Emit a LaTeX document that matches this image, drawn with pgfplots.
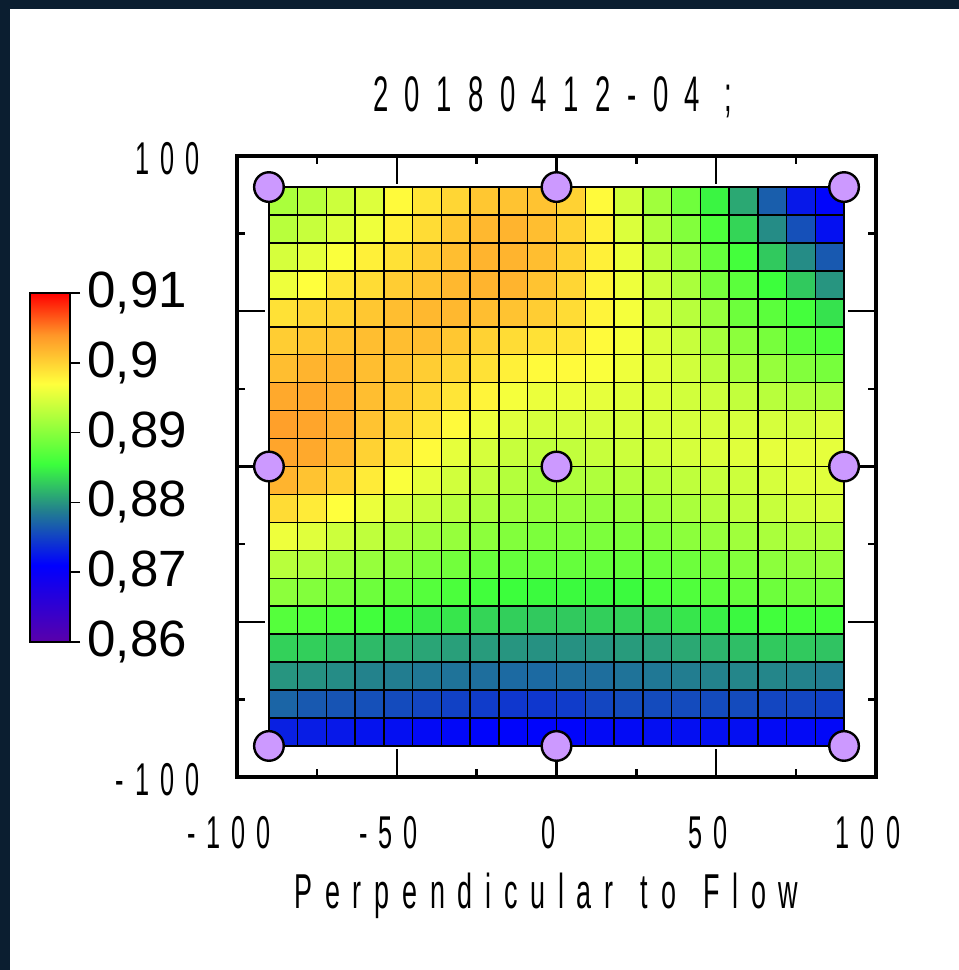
\documentclass[border=0pt]{standalone}
\usepackage{pgfplots}
\usepackage{pgfplotstable}
\pgfplotsset{compat=1.18}
\usepackage{fontspec}
\setmainfont{Liberation Sans}
\newfontfamily\ticknarrow[FakeStretch=0.55,LetterSpace=24]{Liberation Sans}
\newfontfamily\titlenarrow[FakeStretch=0.55,LetterSpace=33]{Liberation Sans}
\newfontfamily\labelnarrow[FakeStretch=0.55,LetterSpace=26]{Liberation Sans}
\definecolor{framebg}{RGB}{11,30,48}
\definecolor{markfill}{RGB}{204,153,255}
\pgfplotstableread[row sep=\\]{
x y c\\
-85.5 -85.5 0.8730\\ -76.5 -85.5 0.8728\\ -67.5 -85.5 0.8725\\ -58.5 -85.5 0.8722\\ -49.5 -85.5 0.8719\\ -40.5 -85.5 0.8716\\ -31.5 -85.5 0.8715\\ -22.5 -85.5 0.8713\\ -13.5 -85.5 0.8713\\ -4.5 -85.5 0.8713\\
4.5 -85.5 0.8713\\ 13.5 -85.5 0.8716\\ 22.5 -85.5 0.8717\\ 31.5 -85.5 0.8719\\ 40.5 -85.5 0.8719\\ 49.5 -85.5 0.8719\\ 58.5 -85.5 0.8719\\ 67.5 -85.5 0.8717\\ 76.5 -85.5 0.8716\\ 85.5 -85.5 0.8715\\
-85.5 -76.5 0.8772\\ -76.5 -76.5 0.8765\\ -67.5 -76.5 0.8762\\ -58.5 -76.5 0.8759\\ -49.5 -76.5 0.8756\\ -40.5 -76.5 0.8753\\ -31.5 -76.5 0.8750\\ -22.5 -76.5 0.8747\\ -13.5 -76.5 0.8744\\ -4.5 -76.5 0.8744\\
4.5 -76.5 0.8747\\ 13.5 -76.5 0.8753\\ 22.5 -76.5 0.8756\\ 31.5 -76.5 0.8756\\ 40.5 -76.5 0.8756\\ 49.5 -76.5 0.8756\\ 58.5 -76.5 0.8756\\ 67.5 -76.5 0.8753\\ 76.5 -76.5 0.8753\\ 85.5 -76.5 0.8750\\
-85.5 -67.5 0.8800\\ -76.5 -67.5 0.8798\\ -67.5 -67.5 0.8795\\ -58.5 -67.5 0.8790\\ -49.5 -67.5 0.8787\\ -40.5 -67.5 0.8784\\ -31.5 -67.5 0.8781\\ -22.5 -67.5 0.8778\\ -13.5 -67.5 0.8775\\ -4.5 -67.5 0.8775\\
4.5 -67.5 0.8778\\ 13.5 -67.5 0.8778\\ 22.5 -67.5 0.8781\\ 31.5 -67.5 0.8784\\ 40.5 -67.5 0.8787\\ 49.5 -67.5 0.8790\\ 58.5 -67.5 0.8792\\ 67.5 -67.5 0.8792\\ 76.5 -67.5 0.8790\\ 85.5 -67.5 0.8787\\
-85.5 -58.5 0.8831\\ -76.5 -58.5 0.8830\\ -67.5 -58.5 0.8824\\ -58.5 -58.5 0.8819\\ -49.5 -58.5 0.8813\\ -40.5 -58.5 0.8808\\ -31.5 -58.5 0.8805\\ -22.5 -58.5 0.8803\\ -13.5 -58.5 0.8800\\ -4.5 -58.5 0.8798\\
4.5 -58.5 0.8798\\ 13.5 -58.5 0.8800\\ 22.5 -58.5 0.8803\\ 31.5 -58.5 0.8805\\ 40.5 -58.5 0.8810\\ 49.5 -58.5 0.8816\\ 58.5 -58.5 0.8821\\ 67.5 -58.5 0.8827\\ 76.5 -58.5 0.8827\\ 85.5 -58.5 0.8824\\
-85.5 -49.5 0.8870\\ -76.5 -49.5 0.8867\\ -67.5 -49.5 0.8864\\ -58.5 -49.5 0.8858\\ -49.5 -49.5 0.8852\\ -40.5 -49.5 0.8845\\ -31.5 -49.5 0.8842\\ -22.5 -49.5 0.8833\\ -13.5 -49.5 0.8830\\ -4.5 -49.5 0.8827\\
4.5 -49.5 0.8827\\ 13.5 -49.5 0.8830\\ 22.5 -49.5 0.8831\\ 31.5 -49.5 0.8833\\ 40.5 -49.5 0.8842\\ 49.5 -49.5 0.8847\\ 58.5 -49.5 0.8852\\ 67.5 -49.5 0.8858\\ 76.5 -49.5 0.8860\\ 85.5 -49.5 0.8860\\
-85.5 -40.5 0.8902\\ -76.5 -40.5 0.8896\\ -67.5 -40.5 0.8890\\ -58.5 -40.5 0.8884\\ -49.5 -40.5 0.8876\\ -40.5 -40.5 0.8870\\ -31.5 -40.5 0.8864\\ -22.5 -40.5 0.8858\\ -13.5 -40.5 0.8855\\ -4.5 -40.5 0.8853\\
4.5 -40.5 0.8853\\ 13.5 -40.5 0.8852\\ 22.5 -40.5 0.8853\\ 31.5 -40.5 0.8864\\ 40.5 -40.5 0.8867\\ 49.5 -40.5 0.8873\\ 58.5 -40.5 0.8879\\ 67.5 -40.5 0.8884\\ 76.5 -40.5 0.8887\\ 85.5 -40.5 0.8887\\
-85.5 -31.5 0.8928\\ -76.5 -31.5 0.8923\\ -67.5 -31.5 0.8914\\ -58.5 -31.5 0.8908\\ -49.5 -31.5 0.8902\\ -40.5 -31.5 0.8893\\ -31.5 -31.5 0.8887\\ -22.5 -31.5 0.8881\\ -13.5 -31.5 0.8879\\ -4.5 -31.5 0.8879\\
4.5 -31.5 0.8879\\ 13.5 -31.5 0.8879\\ 22.5 -31.5 0.8879\\ 31.5 -31.5 0.8881\\ 40.5 -31.5 0.8884\\ 49.5 -31.5 0.8890\\ 58.5 -31.5 0.8896\\ 67.5 -31.5 0.8902\\ 76.5 -31.5 0.8905\\ 85.5 -31.5 0.8908\\
-85.5 -22.5 0.8960\\ -76.5 -22.5 0.8952\\ -67.5 -22.5 0.8940\\ -58.5 -22.5 0.8932\\ -49.5 -22.5 0.8923\\ -40.5 -22.5 0.8914\\ -31.5 -22.5 0.8908\\ -22.5 -22.5 0.8902\\ -13.5 -22.5 0.8896\\ -4.5 -22.5 0.8893\\
4.5 -22.5 0.8893\\ 13.5 -22.5 0.8893\\ 22.5 -22.5 0.8893\\ 31.5 -22.5 0.8896\\ 40.5 -22.5 0.8902\\ 49.5 -22.5 0.8908\\ 58.5 -22.5 0.8914\\ 67.5 -22.5 0.8920\\ 76.5 -22.5 0.8923\\ 85.5 -22.5 0.8923\\
-85.5 -13.5 0.8993\\ -76.5 -13.5 0.8983\\ -67.5 -13.5 0.8970\\ -58.5 -13.5 0.8958\\ -49.5 -13.5 0.8946\\ -40.5 -13.5 0.8937\\ -31.5 -13.5 0.8928\\ -22.5 -13.5 0.8920\\ -13.5 -13.5 0.8914\\ -4.5 -13.5 0.8908\\
4.5 -13.5 0.8908\\ 13.5 -13.5 0.8905\\ 22.5 -13.5 0.8908\\ 31.5 -13.5 0.8914\\ 40.5 -13.5 0.8920\\ 49.5 -13.5 0.8926\\ 58.5 -13.5 0.8932\\ 67.5 -13.5 0.8937\\ 76.5 -13.5 0.8943\\ 85.5 -13.5 0.8946\\
-85.5 -4.5 0.9020\\ -76.5 -4.5 0.9010\\ -67.5 -4.5 0.9000\\ -58.5 -4.5 0.8983\\ -49.5 -4.5 0.8967\\ -40.5 -4.5 0.8955\\ -31.5 -4.5 0.8943\\ -22.5 -4.5 0.8934\\ -13.5 -4.5 0.8926\\ -4.5 -4.5 0.8917\\
4.5 -4.5 0.8923\\ 13.5 -4.5 0.8923\\ 22.5 -4.5 0.8926\\ 31.5 -4.5 0.8928\\ 40.5 -4.5 0.8932\\ 49.5 -4.5 0.8937\\ 58.5 -4.5 0.8940\\ 67.5 -4.5 0.8946\\ 76.5 -4.5 0.8952\\ 85.5 -4.5 0.8952\\
-85.5 4.5 0.9030\\ -76.5 4.5 0.9027\\ -67.5 4.5 0.9017\\ -58.5 4.5 0.9000\\ -49.5 4.5 0.8987\\ -40.5 4.5 0.8973\\ -31.5 4.5 0.8955\\ -22.5 4.5 0.8946\\ -13.5 4.5 0.8937\\ -4.5 4.5 0.8932\\
4.5 4.5 0.8934\\ 13.5 4.5 0.8937\\ 22.5 4.5 0.8940\\ 31.5 4.5 0.8943\\ 40.5 4.5 0.8946\\ 49.5 4.5 0.8949\\ 58.5 4.5 0.8952\\ 67.5 4.5 0.8955\\ 76.5 4.5 0.8955\\ 85.5 4.5 0.8955\\
-85.5 13.5 0.9033\\ -76.5 13.5 0.9030\\ -67.5 13.5 0.9023\\ -58.5 13.5 0.9010\\ -49.5 13.5 0.9000\\ -40.5 13.5 0.8987\\ -31.5 13.5 0.8973\\ -22.5 13.5 0.8960\\ -13.5 13.5 0.8952\\ -4.5 13.5 0.8946\\
4.5 13.5 0.8946\\ 13.5 13.5 0.8946\\ 22.5 13.5 0.8946\\ 31.5 13.5 0.8946\\ 40.5 13.5 0.8946\\ 49.5 13.5 0.8946\\ 58.5 13.5 0.8946\\ 67.5 13.5 0.8946\\ 76.5 13.5 0.8943\\ 85.5 13.5 0.8949\\
-85.5 22.5 0.9027\\ -76.5 22.5 0.9027\\ -67.5 22.5 0.9023\\ -58.5 22.5 0.9013\\ -49.5 22.5 0.9007\\ -40.5 22.5 0.8997\\ -31.5 22.5 0.8987\\ -22.5 22.5 0.8977\\ -13.5 22.5 0.8964\\ -4.5 22.5 0.8958\\
4.5 22.5 0.8958\\ 13.5 22.5 0.8955\\ 22.5 22.5 0.8952\\ 31.5 22.5 0.8949\\ 40.5 22.5 0.8943\\ 49.5 22.5 0.8940\\ 58.5 22.5 0.8934\\ 67.5 22.5 0.8928\\ 76.5 22.5 0.8923\\ 85.5 22.5 0.8920\\
-85.5 31.5 0.9013\\ -76.5 31.5 0.9020\\ -67.5 31.5 0.9020\\ -58.5 31.5 0.9013\\ -49.5 31.5 0.9010\\ -40.5 31.5 0.9003\\ -31.5 31.5 0.8997\\ -22.5 31.5 0.8990\\ -13.5 31.5 0.8980\\ -4.5 31.5 0.8973\\
4.5 31.5 0.8973\\ 13.5 31.5 0.8967\\ 22.5 31.5 0.8960\\ 31.5 31.5 0.8952\\ 40.5 31.5 0.8943\\ 49.5 31.5 0.8928\\ 58.5 31.5 0.8917\\ 67.5 31.5 0.8908\\ 76.5 31.5 0.8896\\ 85.5 31.5 0.8890\\
-85.5 40.5 0.9003\\ -76.5 40.5 0.9007\\ -67.5 40.5 0.9010\\ -58.5 40.5 0.9013\\ -49.5 40.5 0.9013\\ -40.5 40.5 0.9013\\ -31.5 40.5 0.9007\\ -22.5 40.5 0.9000\\ -13.5 40.5 0.8993\\ -4.5 40.5 0.8990\\
4.5 40.5 0.8987\\ 13.5 40.5 0.8973\\ 22.5 40.5 0.8964\\ 31.5 40.5 0.8949\\ 40.5 40.5 0.8937\\ 49.5 40.5 0.8917\\ 58.5 40.5 0.8902\\ 67.5 40.5 0.8890\\ 76.5 40.5 0.8873\\ 85.5 40.5 0.8867\\
-85.5 49.5 0.8990\\ -76.5 49.5 0.8997\\ -67.5 49.5 0.9000\\ -58.5 49.5 0.9007\\ -49.5 49.5 0.9013\\ -40.5 49.5 0.9017\\ -31.5 49.5 0.9017\\ -22.5 49.5 0.9013\\ -13.5 49.5 0.9010\\ -4.5 49.5 0.9003\\
4.5 49.5 0.8993\\ 13.5 49.5 0.8977\\ 22.5 49.5 0.8964\\ 31.5 49.5 0.8946\\ 40.5 49.5 0.8928\\ 49.5 49.5 0.8908\\ 58.5 49.5 0.8884\\ 67.5 49.5 0.8873\\ 76.5 49.5 0.8860\\ 85.5 49.5 0.8840\\
-85.5 58.5 0.8960\\ -76.5 58.5 0.8970\\ -67.5 58.5 0.8987\\ -58.5 58.5 0.8993\\ -49.5 58.5 0.9003\\ -40.5 58.5 0.9010\\ -31.5 58.5 0.9017\\ -22.5 58.5 0.9020\\ -13.5 58.5 0.9020\\ -4.5 58.5 0.9010\\
4.5 58.5 0.8997\\ 13.5 58.5 0.8977\\ 22.5 58.5 0.8960\\ 31.5 58.5 0.8940\\ 40.5 58.5 0.8920\\ 49.5 58.5 0.8890\\ 58.5 58.5 0.8873\\ 67.5 58.5 0.8855\\ 76.5 58.5 0.8827\\ 85.5 58.5 0.8800\\
-85.5 67.5 0.8946\\ -76.5 67.5 0.8955\\ -67.5 67.5 0.8967\\ -58.5 67.5 0.8980\\ -49.5 67.5 0.8990\\ -40.5 67.5 0.9003\\ -31.5 67.5 0.9013\\ -22.5 67.5 0.9020\\ -13.5 67.5 0.9020\\ -4.5 67.5 0.9013\\
4.5 67.5 0.9000\\ 13.5 67.5 0.8980\\ 22.5 67.5 0.8958\\ 31.5 67.5 0.8932\\ 40.5 67.5 0.8910\\ 49.5 67.5 0.8879\\ 58.5 67.5 0.8860\\ 67.5 67.5 0.8827\\ 76.5 67.5 0.8795\\ 85.5 67.5 0.8765\\
-85.5 76.5 0.8928\\ -76.5 76.5 0.8937\\ -67.5 76.5 0.8949\\ -58.5 76.5 0.8960\\ -49.5 76.5 0.8980\\ -40.5 76.5 0.8993\\ -31.5 76.5 0.9007\\ -22.5 76.5 0.9017\\ -13.5 76.5 0.9020\\ -4.5 76.5 0.9013\\
4.5 76.5 0.9000\\ 13.5 76.5 0.8980\\ 22.5 76.5 0.8949\\ 31.5 76.5 0.8923\\ 40.5 76.5 0.8896\\ 49.5 76.5 0.8865\\ 58.5 76.5 0.8833\\ 67.5 76.5 0.8795\\ 76.5 76.5 0.8759\\ 85.5 76.5 0.8720\\
-85.5 85.5 0.8920\\ -76.5 85.5 0.8928\\ -67.5 85.5 0.8940\\ -58.5 85.5 0.8950\\ -49.5 85.5 0.8973\\ -40.5 85.5 0.8987\\ -31.5 85.5 0.8997\\ -22.5 85.5 0.9007\\ -13.5 85.5 0.9010\\ -4.5 85.5 0.9010\\
4.5 85.5 0.9000\\ 13.5 85.5 0.8973\\ 22.5 85.5 0.8943\\ 31.5 85.5 0.8914\\ 40.5 85.5 0.8885\\ 49.5 85.5 0.8850\\ 58.5 85.5 0.8810\\ 67.5 85.5 0.8768\\ 76.5 85.5 0.8725\\ 85.5 85.5 0.8713\\
}\heat
\begin{document}
\begin{tikzpicture}
\useasboundingbox (0,0) rectangle (479.5pt,485pt);
\fill[framebg] (0,0) rectangle (479.5pt,485pt);
\fill[white] (5pt,0) rectangle (479.5pt,480.5pt);
\begin{axis}[
  at={(118.5pt,96.5pt)}, anchor=south west,
  scale only axis, width=319.5pt, height=310.5pt,
  xmin=-100, xmax=100, ymin=-100, ymax=100,
  y dir=normal,
  axis line style={line width=2pt},
  xtick={-100,-50,0,50,100}, ytick={-100,-50,0,50,100},
  minor x tick num=1, minor y tick num=1,
  tick align=inside, major tick length=14pt, minor tick length=4pt,
  every tick/.append style={black, line width=1.2pt},
  xticklabels={-100,-50,0,50,100},
  yticklabels={-100,,,,100},
  xticklabel style={font=\ticknarrow\fontsize{23}{27}\selectfont, anchor=base, inner sep=0pt, yshift=-35.5pt, xshift=-4pt},
  yticklabel style={font=\ticknarrow\fontsize{23}{27}\selectfont, anchor=east, inner sep=0pt, xshift=-18.5pt, yshift=-1.5pt},
  title={20180412-04 ;},
  title style={font=\titlenarrow\fontsize{25}{30}\selectfont, at={(0.5,1)}, anchor=base, inner sep=0pt, yshift=16pt, xshift=-2pt},
  xlabel={Perpendicular\hspace{3.5pt} to\hspace{3.5pt} Flow},
  xlabel style={font=\labelnarrow\fontsize{24.5}{29}\selectfont, at={(axis description cs:0.5,0)}, anchor=base, inner sep=0pt, yshift=-65.5pt, xshift=-5pt},
  colormap={origin}{rgb255(0pt)=(90,0,170); rgb255(11pt)=(0,0,255); rgb255(19pt)=(35,130,140); rgb255(25.5pt)=(60,255,60); rgb255(37pt)=(255,255,60); rgb255(44pt)=(255,150,40); rgb255(50pt)=(255,0,0)},
  point meta min=0.86, point meta max=0.91,
  colorbar,
  colorbar/width=20pt,
  colorbar style={
    at={(parent axis.south west)}, anchor=south east,
    xshift=-92pt, yshift=67.5pt,
    scale only axis, width=20pt, height=174.5pt,
    xmin=0, xmax=1, enlarge x limits=false, enlarge y limits=false,
    y dir=normal,
    title={}, xlabel={}, ylabel={},
    xtick=\empty,
    ytick={0.86,0.87,0.88,0.89,0.9,0.91},
    yticklabels={{0,86},{0,87},{0,88},{0,89},{0,9},{0,91}},
    ytick pos=right, yticklabel pos=right,
    tick align=outside, major tick length=5pt,
    minor y tick num=0,
    every tick/.append style={line width=0.8pt, black},
    axis line style={line width=0.8pt},
    yticklabel style={font=\fontsize{25.5}{30}\selectfont, anchor=west, inner sep=0pt, xshift=3.5pt, yshift=0pt},
  },
]
\addplot[matrix plot*, mesh/cols=20, point meta=explicit] table[x=x,y=y,meta=c]{\heat};
\addplot[black, line width=0.75pt, unbounded coords=jump, forget plot] coordinates {
(-90,-90) (-90,90) (-90,nan) (-81,-90) (-81,90) (-81,nan) (-72,-90) (-72,90) (-72,nan)
(-63,-90) (-63,90) (-63,nan) (-54,-90) (-54,90) (-54,nan) (-45,-90) (-45,90) (-45,nan)
(-36,-90) (-36,90) (-36,nan) (-27,-90) (-27,90) (-27,nan) (-18,-90) (-18,90) (-18,nan)
(-9,-90) (-9,90) (-9,nan) (0,-90) (0,90) (0,nan) (9,-90) (9,90) (9,nan)
(18,-90) (18,90) (18,nan) (27,-90) (27,90) (27,nan) (36,-90) (36,90) (36,nan)
(45,-90) (45,90) (45,nan) (54,-90) (54,90) (54,nan) (63,-90) (63,90) (63,nan)
(72,-90) (72,90) (72,nan) (81,-90) (81,90) (81,nan) (90,-90) (90,90) (90,nan)
(-90,-90) (90,-90) (nan,-90) (-90,-81) (90,-81) (nan,-81) (-90,-72) (90,-72) (nan,-72)
(-90,-63) (90,-63) (nan,-63) (-90,-54) (90,-54) (nan,-54) (-90,-45) (90,-45) (nan,-45)
(-90,-36) (90,-36) (nan,-36) (-90,-27) (90,-27) (nan,-27) (-90,-18) (90,-18) (nan,-18)
(-90,-9) (90,-9) (nan,-9) (-90,0) (90,0) (nan,0) (-90,9) (90,9) (nan,9)
(-90,18) (90,18) (nan,18) (-90,27) (90,27) (nan,27) (-90,36) (90,36) (nan,36)
(-90,45) (90,45) (nan,45) (-90,54) (90,54) (nan,54) (-90,63) (90,63) (nan,63)
(-90,72) (90,72) (nan,72) (-90,81) (90,81) (nan,81) (-90,90) (90,90)
};
\addplot[only marks, mark=*, mark size=7.4pt, mark options={fill=markfill, draw=black, line width=1.2pt}] coordinates {(-90,-90) (0,-90) (90,-90) (-90,0) (0,0) (90,0) (-90,90) (0,90) (90,90)};
\end{axis}
\end{tikzpicture}
\end{document}
